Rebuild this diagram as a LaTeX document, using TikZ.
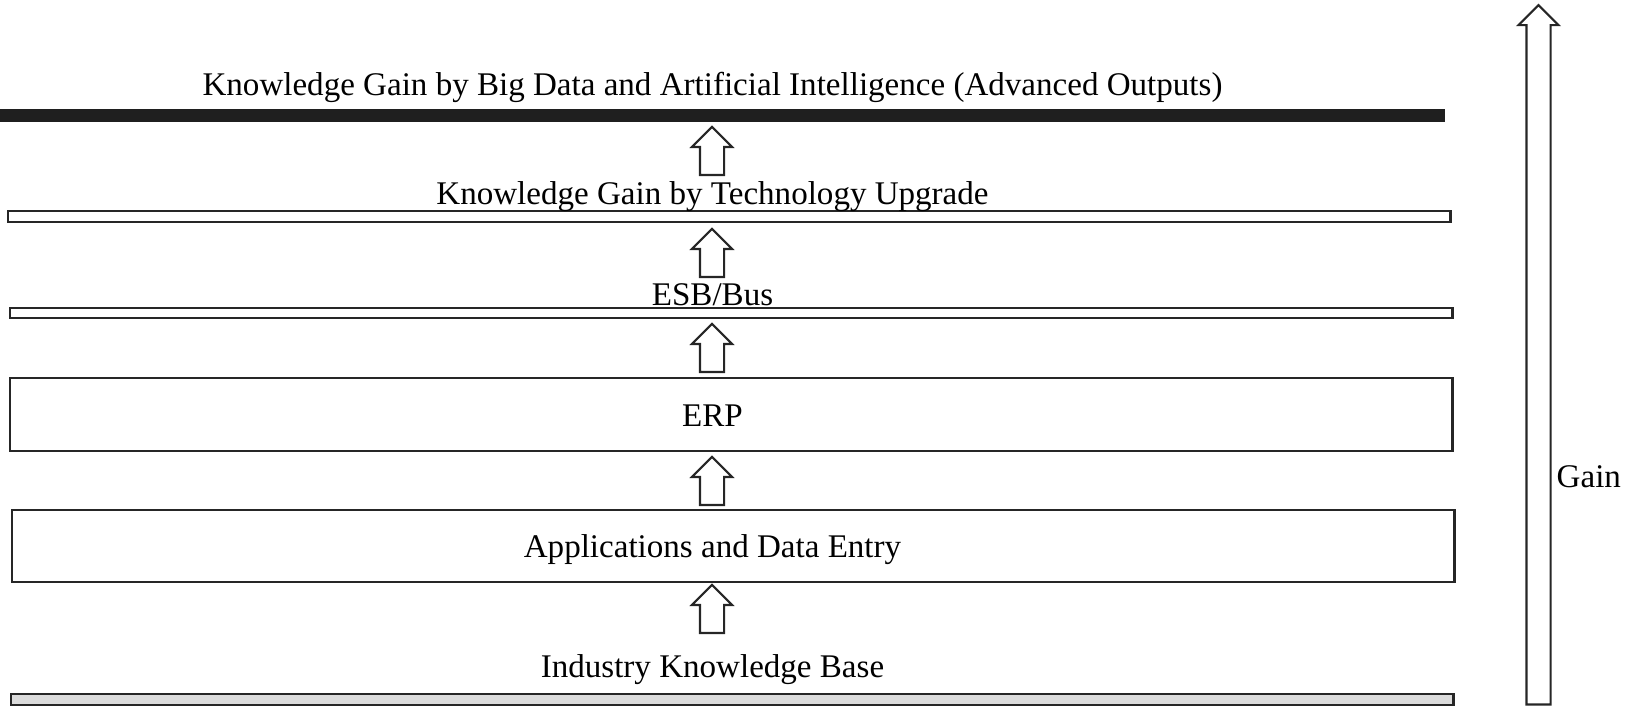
\documentclass[tikz,border=0pt]{standalone}
\usepackage{fontspec}
\setmainfont{Liberation Serif}
\usetikzlibrary{shapes.arrows}

\begin{document}
\begin{tikzpicture}[x=0.01cm,y=-0.01cm,
  every node/.style={font=\fontsize{9.4}{11}\selectfont},
  layer/.style={rectangle,draw=black!85,line width=0.6pt,inner sep=0,minimum width=14.42cm},
  lbl/.style={anchor=base,inner sep=0},
  up/.style={single arrow,draw=black!85,line width=0.6pt,rotate=90,anchor=tail,inner xsep=0,inner ysep=0.11cm,
    single arrow head extend=0.08cm,minimum height=0.48cm}]
\useasboundingbox (0,0) rectangle (1625,708);
\node[layer,fill=black!88,draw=none,minimum width=14.45cm,minimum height=0.13cm] (bigdata) at (722.5,115.5) {};
\node[layer,minimum height=0.11cm] (tech) at (729,216.5) {};
\node[layer,minimum height=0.10cm] (esb) at (731,313) {};
\node[layer,minimum height=0.73cm] (erp) at (731,414.5) {};
\node[layer,minimum height=0.72cm] (apps) at (733,546) {};
\node[layer,fill=black!14,minimum height=0.11cm] (base) at (732,699.5) {};
\node[lbl] (tbigdata) at (712.5,95) {Knowledge Gain by Big Data and Artificial Intelligence (Advanced Outputs)};
\node[lbl] (ttech) at (712.5,204) {Knowledge Gain by Technology Upgrade};
\node[lbl] (tesb) at (712.5,305) {ESB/Bus};
\node[lbl] (terp) at (712.5,426) {ERP};
\node[lbl] (tapps) at (712.5,557) {Applications and Data Entry};
\node[lbl] (tbase) at (712.5,677) {Industry Knowledge Base};
\node[up] (a1) at (712,176) {};
\node[up] (a2) at (712,278) {};
\node[up] (a3) at (712,373) {};
\node[up] (a4) at (712,506) {};
\node[up] (a5) at (712,634) {};
\node[up,minimum height=6.99cm] (gain) at (1538.5,705.5) {};
\node[lbl,anchor=base west] (tgain) at (1556,487) {Gain};
\end{tikzpicture}
\end{document}
